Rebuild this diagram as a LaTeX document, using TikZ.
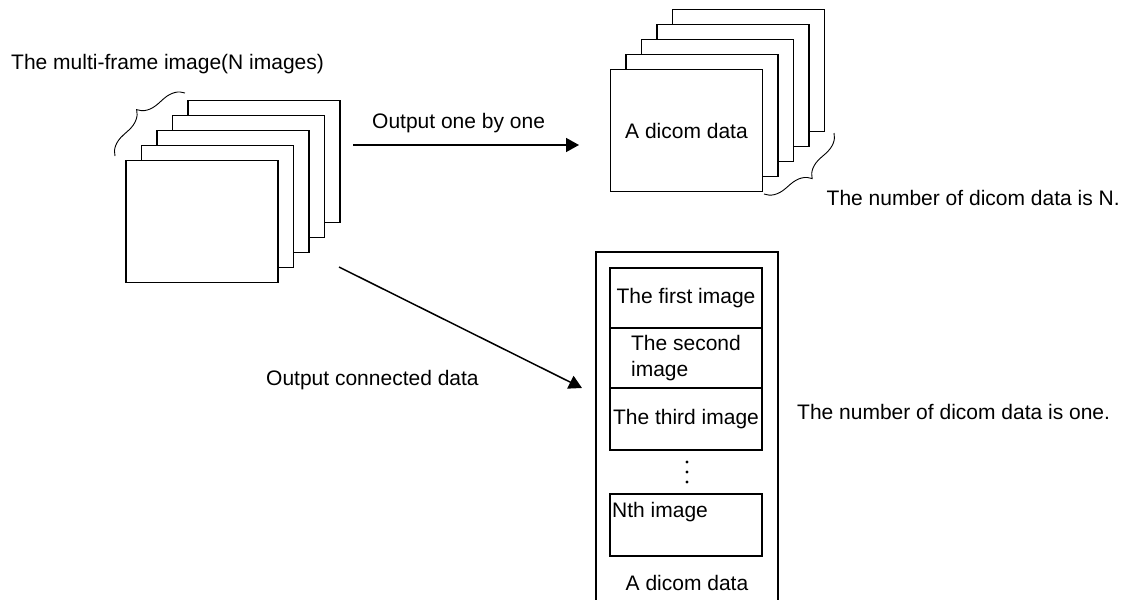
\documentclass[tikz,border=0pt]{standalone}
\usepackage{fontspec}
\setmainfont{Liberation Sans}
\usetikzlibrary{arrows.meta,decorations.pathreplacing}
\tikzset{
  page/.style={draw,fill=white,line width=1.6pt,minimum width=152pt,minimum height=122pt,inner sep=0pt},
  part/.style={draw,line width=1.6pt,minimum width=152pt,inner sep=0pt},
  flow/.style={line width=1.5pt,-{Triangle[length=13pt,width=14pt]}},
  curly/.style={line width=0.9pt,decorate,decoration={brace,amplitude=20pt}},
  txt/.style={inner sep=0pt,anchor=west}
}
\begin{document}
\begin{tikzpicture}[x=1pt,y=-1pt,font=\fontsize{21}{26}\selectfont]
            \useasboundingbox (0,0) rectangle (1128,600);

            % the multi-frame image
            \node[txt] (title) at (11,64) {The multi-frame image(N images)};
            \foreach \i in {4,3,2,1,0}
                \node[page] (multi\i) at ({202+15.5*\i},{221.5-15*\i}) {};
            \coordinate (bracea) at (115,156);
            \coordinate (braceb) at (185,93);
            \draw[curly] (bracea) -- (braceb);

            % N dicom data
            \foreach \i in {4,3,2,1}
                \node[page] (dcm\i) at ({686.5+15.5*\i},{130.5-15*\i}) {};
            \node[page,text depth=0pt] (dcm0) at (686.5,130.5) {A dicom data};
            \coordinate (bracec) at (834,133);
            \coordinate (braced) at (764,194);
            \draw[curly] (bracec) -- (braced);
            \node[txt] (countn) at (826.5,198) {The number of dicom data is N.};

            % one dicom data
            \node[draw,line width=1.6pt,minimum width=182pt,minimum height=350pt,inner sep=0pt] (one) at (687,427) {};
            \node[part,minimum height=60pt] (first) at (686,298) {The first image};
            \node[part,minimum height=60pt,align=left] (second) at (686,358) {The second\\image};
            \node[part,minimum height=62pt] (third) at (686,419) {The third image};
            \foreach \y in {462,472,482}
                \fill (687,\y) circle (1.7pt);
            \node[part,minimum height=62pt] (nth) at (686,525) {};
            \node[txt] (nthtxt) at (612,512) {Nth image};
            \node (onetxt) at (687,583) {A dicom data};
            \node[txt] (countone) at (797,412) {The number of dicom data is one.};

            % arrows
            \coordinate (ra) at (353,145);
            \coordinate (rb) at (579,145);
            \coordinate (da) at (339,267);
            \coordinate (db) at (582,388);
            \draw[flow] (ra)--(rb);
            \draw[flow] (da)--(db);
            \node[txt] (byone) at (372,123) {Output one by one};
            \node[txt] (conn) at (266,380) {Output connected data};
        \end{tikzpicture}
\end{document}
